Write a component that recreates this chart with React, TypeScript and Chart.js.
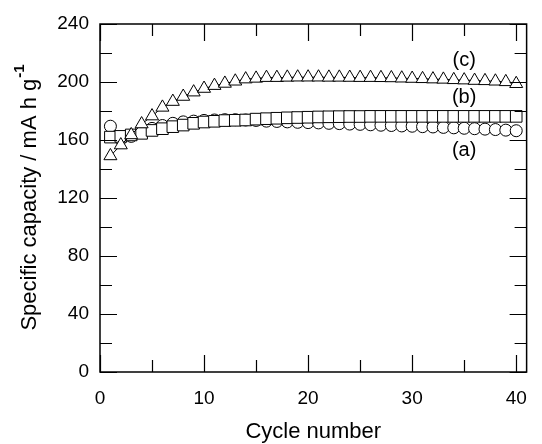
import React, { useEffect, useRef } from 'react';
import { Chart, registerables } from 'chart.js';

Chart.register(...registerables);

const cycles = [1, 2, 3, 4, 5, 6, 7, 8, 9, 10, 11, 12, 13, 14, 15, 16, 17, 18, 19, 20,
  21, 22, 23, 24, 25, 26, 27, 28, 29, 30, 31, 32, 33, 34, 35, 36, 37, 38, 39, 40];

// (a) circles
const capA = [169.5, 160.5, 162.5, 165.5, 168, 170, 171.5, 172.5, 173, 173.5,
  173.8, 174, 174, 173.8, 173.5, 173, 172.8, 172.5, 172.2, 172,
  171.8, 171.5, 171.3, 171, 170.8, 170.5, 170.2, 170, 169.7, 169.5,
  169.2, 169, 168.7, 168.4, 168.1, 167.8, 167.5, 167.2, 166.8, 166.4];

// (b) squares
const capB = [162, 162.5, 163.5, 164.6, 166.6, 167.8, 169.2, 170.3, 171.5, 172.4,
  172.9, 173.4, 173.6, 173.8, 174.4, 174.7, 175, 175.3, 175.5, 175.7,
  175.9, 176, 176.1, 176.2, 176.2, 176.3, 176.3, 176.3, 176.3, 176.3,
  176.3, 176.3, 176.3, 176.3, 176.3, 176.3, 176.3, 176.3, 176.3, 176.3];

// (c) triangles
const capC = [149, 156.5, 163.5, 171, 176.5, 182.5, 186.5, 190, 193, 195.5,
  197.5, 199, 200.5, 202, 202.5, 203, 203, 203.2, 203.3, 203.3,
  203.3, 203.2, 203.2, 203.1, 203, 203, 202.9, 202.8, 202.6, 202.4,
  202.2, 202, 201.8, 201.5, 201.3, 201, 200.8, 200.5, 200.1, 198.8];

const seriesLabels = ['(a)', '(b)', '(c)'];
const seriesLabelX = [35, 35, 35];
const seriesLabelY = [153, 189, 215];

const xMajorTicks = [0, 10, 20, 30, 40];
const xMinorTicks = [5, 15, 25, 35];
const yMajorTicks = [0, 40, 80, 120, 160, 200, 240];
const yMinorTicks = [20, 60, 100, 140, 180, 220];

const xTitle = 'Cycle number';
const yTitle = 'Specific capacity / mA h g';
const yTitleSup = '-1';

const FONT = '"Liberation Sans", Arial, Helvetica, sans-serif';

export default function App() {
  const ref = useRef<HTMLCanvasElement>(null);

  useEffect(() => {
    if (!ref.current) return;

    const framePlugin = {
      id: 'framePlugin',
      afterDatasetsDraw(chart: any) {
        const { ctx, chartArea: a, scales } = chart;
        const xs = scales.x;
        const ys = scales.y;
        ctx.save();
        ctx.strokeStyle = '#000';
        ctx.lineWidth = 1.5;
        ctx.strokeRect(a.left, a.top, a.right - a.left, a.bottom - a.top);
        ctx.lineWidth = 1.2;
        const majorLen = 17;
        const minorLen = 12;
        const drawX = (vals: number[], len: number) => {
          vals.forEach((v) => {
            const px = Math.round(xs.getPixelForValue(v)) + 0.5;
            ctx.beginPath();
            ctx.moveTo(px, a.bottom);
            ctx.lineTo(px, a.bottom - len);
            ctx.moveTo(px, a.top);
            ctx.lineTo(px, a.top + len);
            ctx.stroke();
          });
        };
        const drawY = (vals: number[], len: number) => {
          vals.forEach((v) => {
            const py = Math.round(ys.getPixelForValue(v)) + 0.5;
            ctx.beginPath();
            ctx.moveTo(a.left, py);
            ctx.lineTo(a.left + len, py);
            ctx.moveTo(a.right, py);
            ctx.lineTo(a.right - len, py);
            ctx.stroke();
          });
        };
        drawX(xMajorTicks, majorLen);
        drawX(xMinorTicks, minorLen);
        drawY(yMajorTicks, majorLen);
        drawY(yMinorTicks, minorLen);

        ctx.fillStyle = '#000';
        ctx.font = `20px ${FONT}`;
        ctx.textAlign = 'center';
        ctx.textBaseline = 'middle';
        seriesLabels.forEach((t, i) => {
          ctx.fillText(t, xs.getPixelForValue(seriesLabelX[i]), ys.getPixelForValue(seriesLabelY[i]));
        });

        // x title
        ctx.font = `22px ${FONT}`;
        ctx.fillText(xTitle, (a.left + a.right) / 2, 432);

        // y title with superscript
        ctx.translate(30, (a.top + a.bottom) / 2);
        ctx.rotate(-Math.PI / 2);
        ctx.font = `22px ${FONT}`;
        const w1 = ctx.measureText(yTitle).width;
        ctx.font = `bold 15px ${FONT}`;
        const w2 = ctx.measureText(yTitleSup).width;
        const start = -(w1 + w2) / 2;
        ctx.textAlign = 'left';
        ctx.font = `22px ${FONT}`;
        ctx.fillText(yTitle, start, 0);
        ctx.font = `bold 15px ${FONT}`;
        ctx.fillText(yTitleSup, start + w1 + 1, -10);
        ctx.restore();
      },
    };

    const mk = (label: string, data: number[], style: any, radius: number, order: number) => ({
      label,
      data: cycles.map((c, i) => ({ x: c, y: data[i] })),
      showLine: true,
      borderColor: '#000',
      borderWidth: 1,
      backgroundColor: '#fff',
      pointStyle: style,
      pointRadius: radius,
      pointBorderWidth: 1,
      pointBorderColor: '#000',
      pointBackgroundColor: '#fff',
      order,
    });

    const chart = new Chart(ref.current, {
      type: 'scatter',
      data: {
        datasets: [
          mk('(a)', capA, 'circle', 6, 3),
          mk('(b)', capB, 'rect', 8.2, 2),
          mk('(c)', capC, 'triangle', 7.5, 1),
        ],
      },
      options: {
        responsive: true,
        maintainAspectRatio: false,
        animation: false,
        layout: { padding: { left: 0, right: 2, top: 24, bottom: 0 } },
        plugins: {
          legend: { display: false },
          tooltip: { enabled: false },
        },
        scales: {
          x: {
            type: 'linear',
            min: 0,
            max: 41,
            grid: { display: false, drawTicks: false },
            border: { display: false },
            ticks: {
              stepSize: 10,
              includeBounds: false,
              padding: 15,
              color: '#000',
              font: { family: FONT, size: 19 },
              maxRotation: 0,
            },
            afterFit(scale: any) {
              scale.height = 72;
            },
          },
          y: {
            type: 'linear',
            min: 0,
            max: 240,
            grid: { display: false, drawTicks: false },
            border: { display: false },
            ticks: {
              stepSize: 40,
              padding: 11,
              color: '#000',
              font: { family: FONT, size: 19 },
            },
            afterFit(scale: any) {
              scale.width = 100;
            },
          },
        },
      },
      plugins: [framePlugin],
    });

    return () => chart.destroy();
  }, []);

  return (
    <div style={{ position: 'absolute', left: 0, top: 0, width: 542, height: 444, background: '#fff' }}>
      <canvas ref={ref} />
    </div>
  );
}
